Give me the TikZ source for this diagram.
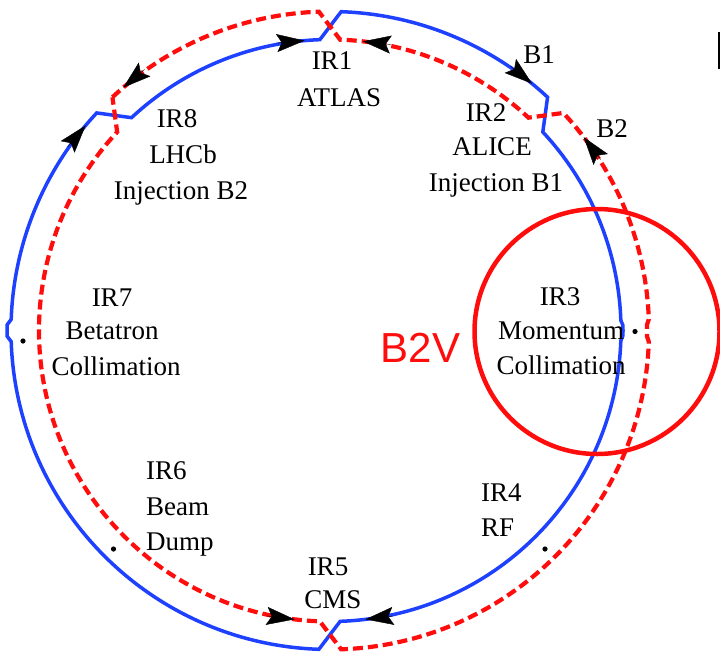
\documentclass[tikz,border=0pt]{standalone}
\usepackage{fontspec}
\setmainfont{Liberation Serif}
\newfontfamily\labsans{Liberation Sans}
\usetikzlibrary{calc,arrows.meta}
\definecolor{beamblue}{RGB}{30,64,255}
\definecolor{beamred}{RGB}{255,12,12}
\tikzset{
  beamone/.style={draw=beamblue, line width=3.5pt, line join=miter},
  beamtwo/.style={draw=beamred, line width=4.2pt, dash pattern=on 10pt off 5pt, line join=miter},
  arr/.style={black, line width=0.4pt, -{Stealth[length=28pt,width=18pt,inset=5pt]}},
  lab/.style={font=\fontsize{27}{33}\selectfont, inner sep=0pt, anchor=base},
  labl/.style={font=\fontsize{27}{33}\selectfont, inner sep=0pt, anchor=base west},
  ipdot/.style={fill=black, draw=none},
}
\begin{document}
\begin{tikzpicture}[x=1pt,y=1pt]
\useasboundingbox (0,0) rectangle (720,-656);
\coordinate (C) at (330,-330.5);
% Beam 1 (blue, clockwise)
\draw[beamone] ($(C)+(88:319pt)$) arc[start angle=88, end angle=47, radius=319pt]
  -- ($(C)+(43:291pt)$) arc[start angle=43, end angle=2, radius=291pt]
  -- ($(C)+(1:293pt)$) arc[start angle=1, end angle=-1, radius=293pt]
  -- ($(C)+(-2:291pt)$) arc[start angle=-2, end angle=-88, radius=291pt]
  -- ($(C)+(-92:319pt)$) arc[start angle=-92, end angle=-178, radius=319pt]
  -- ($(C)+(-179:323pt)$) arc[start angle=-179, end angle=-181, radius=323pt]
  -- ($(C)+(-182:319pt)$) arc[start angle=-182, end angle=-223, radius=319pt]
  -- ($(C)+(-227:291pt)$) arc[start angle=-227, end angle=-268, radius=291pt]
  -- cycle;
% Beam 2 (red dashed, counter-clockwise)
\draw[beamtwo] ($(C)+(133:319pt)$) arc[start angle=133, end angle=92, radius=319pt]
  -- ($(C)+(88:291pt)$) arc[start angle=88, end angle=47, radius=291pt]
  -- ($(C)+(43:319pt)$) arc[start angle=43, end angle=2, radius=319pt]
  -- ($(C)+(1:317pt)$) arc[start angle=1, end angle=-1, radius=317pt]
  -- ($(C)+(-2:319pt)$) arc[start angle=-2, end angle=-88, radius=319pt]
  -- ($(C)+(-92:291pt)$) arc[start angle=-92, end angle=-223, radius=291pt]
  -- cycle;
% arrowheads beam 1 (clockwise)
\coordinate (a1) at ($(C)+(95:291pt)$);
\coordinate (a2) at ($(C)+(50.7:319pt)$);
\coordinate (a3) at ($(C)+(-83:291pt)$);
\coordinate (a4) at ($(C)+(140:319pt)$);
\draw[arr] ($(a1)+(185:28pt)$) -- (a1);
\draw[arr] ($(a2)+(140.7:28pt)$) -- (a2);
\draw[arr] ($(a3)+(7:28pt)$) -- (a3);
\draw[arr] ($(a4)+(230:28pt)$) -- (a4);
% arrowheads beam 2 (counter-clockwise)
\coordinate (b1) at ($(C)+(83.5:291pt)$);
\coordinate (b2) at ($(C)+(37.3:319pt)$);
\coordinate (b3) at ($(C)+(-97:291pt)$);
\coordinate (b4) at ($(C)+(130.4:319pt)$);
\draw[arr] ($(b1)+(-6.5:28pt)$) -- (b1);
\draw[arr] ($(b2)+(-52.7:28pt)$) -- (b2);
\draw[arr] ($(b3)+(-187:28pt)$) -- (b3);
\draw[arr] ($(b4)+(40.4:28pt)$) -- (b4);
% interaction point dots
\fill[ipdot] (635,-331.5) circle (2.6pt);
\fill[ipdot] (23,-341) circle (2.6pt);
\fill[ipdot] (113.5,-549) circle (2.6pt);
\fill[ipdot] (545,-549) circle (2.6pt);
% labels
\node[lab] (ir1) at (332,-69) {IR1};
\node[lab] (atlas) at (339,-106) {ATLAS};
\node[lab] (bone) at (539,-63) {B1};
\node[lab] (btwo) at (612,-137) {B2};
\node[lab] (ir2) at (486,-121) {IR2};
\node[lab] (alice) at (492,-155) {ALICE};
\node[lab] (injb1) at (496,-191) {Injection B1};
\node[lab] (ir8) at (177,-127) {IR8};
\node[lab] (lhcb) at (183,-163) {LHCb};
\node[lab] (injb2) at (181,-199) {Injection B2};
\node[lab] (ir7) at (112,-306) {IR7};
\node[lab] (beta) at (112,-339) {Betatron};
\node[lab] (coll7) at (116,-375) {Collimation};
\node[lab] (ir3) at (560,-305) {IR3};
\node[lab] (mom) at (561,-339) {Momentum};
\node[lab] (coll3) at (561,-374) {Collimation};
\node[labl] (ir6) at (146,-479) {IR6};
\node[labl] (beam) at (146,-515) {Beam};
\node[labl] (dump) at (146,-550) {Dump};
\node[labl] (ir4) at (481,-501) {IR4};
\node[labl] (rf) at (481,-536) {RF};
\node[lab] (ir5) at (328,-575) {IR5};
\node[lab] (cms) at (333,-608) {CMS};
% B2V highlight
\draw[beamred, line width=4.5pt] (597,-331.5) circle (122.5pt);
\node[anchor=base, inner sep=0pt, text=beamred, font=\labsans\fontsize{42}{48}\selectfont] (b2v) at (420.5,-362) {B2V};
\fill[black] (717.8,-32) rectangle (720,-69);
\end{tikzpicture}
\end{document}
